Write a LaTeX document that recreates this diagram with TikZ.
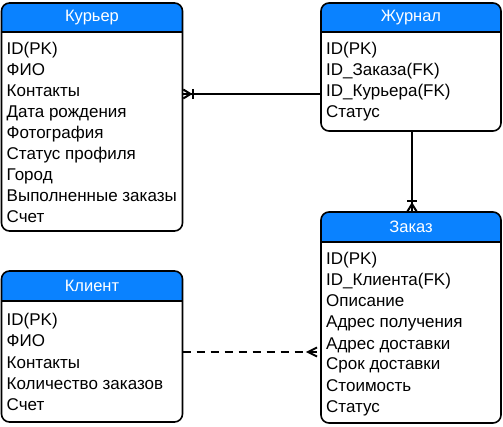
\documentclass[tikz,border=0pt]{standalone}
\usepackage{fontspec}
\setmainfont{Liberation Sans}
\usetikzlibrary{calc}
\definecolor{hdrblue}{HTML}{0A82FF}
\tikzset{
  entbox/.style={draw=none, minimum width=#1, inner sep=0pt, outer sep=0pt, anchor=north west},
  border/.style={draw=black, line width=1.6pt, rounded corners=8pt},
  rowtxt/.style={anchor=base west, inner sep=0pt, font=\fontsize{17}{20}\selectfont},
  ttl/.style={text=white, inner sep=0pt, font=\fontsize{16.5}{20}\selectfont},
  conn/.style={line width=2.5pt, draw=black},
  ermark/.style={line width=2pt, draw=black},
  dashconn/.style={line width=2.5pt, draw=black, dash pattern=on 8pt off 6pt}
}
\newcommand\mkentity[7]{% name, x, y, width, height, header height, title
  \node[entbox=#4, minimum height=#5] (#1) at (#2,#3) {};
  \begin{scope}
    \clip[rounded corners=8pt] (#1.north west) rectangle (#1.south east);
    \fill[hdrblue] (#1.north west) rectangle ($(#1.north east)+(0,#6)$);
  \end{scope}
  \draw[line width=1.6pt] ($(#1.north west)+(0,#6)$) -- ($(#1.north east)+(0,#6)$);
  \draw[border] (#1.north west) rectangle (#1.south east);
  \node[ttl] (#1-t) at ($(#1.north)+(0,#6/2)$) {#7};
}
\newcommand\mkrows[3]{% name, first baseline offset, list
  \foreach \t [count=\i] in {#3}
    \node[rowtxt] (#1-r\i) at ($(#1.north west)+(5,{#2+21*(\i-1)})$) {\t};
}
\begin{document}
\begin{tikzpicture}[x=1pt,y=-1pt]
\useasboundingbox (0,0) rectangle (503,427);

\mkentity{kur}{1.5}{3}{181pt}{228pt}{29}{Курьер}
\mkrows{kur}{52}{ID(PK),ФИО,Контакты,Дата рождения,Фотография,Статус профиля,Город,Выполненные заказы,Счет}

\mkentity{jou}{321}{3}{180pt}{128pt}{29}{Журнал}
\mkrows{jou}{52}{ID(PK),ID\_Заказа(FK),ID\_Курьера(FK),Статус}

\mkentity{zak}{321}{212}{180pt}{211pt}{30}{Заказ}
\mkrows{zak}{53}{ID(PK),ID\_Клиента(FK),Описание,Адрес получения,Адрес доставки,Срок доставки,Стоимость,Статус}

\mkentity{cli}{1.5}{271}{181pt}{151pt}{30}{Клиент}
\mkrows{cli}{55}{ID(PK),ФИО,Контакты,Количество заказов,Счет}

% Journal -> Courier
\coordinate (a1) at ($(jou.north west)+(0,91)$);
\coordinate (b1) at ($(kur.north east)+(0,91)$);
\draw[conn] (a1) -- (b1);
\draw[ermark] ($(b1)+(0.75,-4.5)$) -- ($(b1)+(8,0)$) -- ($(b1)+(0.75,4.5)$);
\draw[ermark] ($(b1)+(10.5,-5)$) -- ($(b1)+(10.5,5)$);

% Journal -> Order
\coordinate (a2) at ($(jou.south west)+(91,0)$);
\coordinate (b2) at ($(zak.north west)+(91,0)$);
\draw[conn] (a2) -- (b2);
\draw[ermark] ($(b2)+(-4.5,-0.75)$) -- ($(b2)+(0,-8)$) -- ($(b2)+(4.5,-0.75)$);
\draw[ermark] ($(b2)+(-5,-10.5)$) -- ($(b2)+(5,-10.5)$);

% Client -> Order
\coordinate (a3) at ($(cli.north east)+(0,81)$);
\coordinate (b3) at ($(zak.north west)+(0,140)$);
\draw[dashconn] (a3) -- (b3);
\draw[ermark] ($(b3)+(-4,-4.5)$) -- ($(b3)+(-13,0)$) -- ($(b3)+(-4,4.5)$);
\end{tikzpicture}
\end{document}
